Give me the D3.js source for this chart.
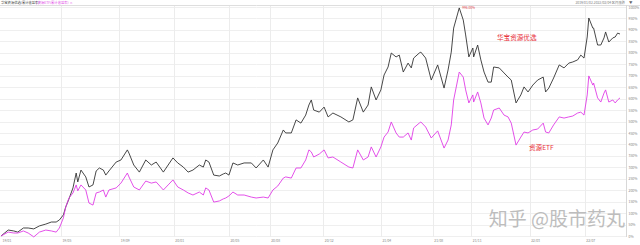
<!DOCTYPE html>
<html>
<head>
<meta charset="utf-8">
<script src="https://cdn.jsdelivr.net/npm/d3@7"></script>
<style>
body { margin: 0; background: #fff; }
text { font-family: "Noto Sans CJK SC", "Noto Sans", sans-serif; }
</style>
</head>
<body>
<div id="chart"></div>
<script>
// trading day index since start, and cumulative return (%) of each series
var days = [0,9,16,21,28,34,41,48,56,63,
  69,73,78,81,85,90,94,96,100,106,
  110,115,119,123,128,131,135,144,150,158,
  160,166,173,181,188,194,203,209,215,221,
  228,234,240,248,253,256,260,266,273,278,
  281,285,290,296,304,313,319,328,334,340,
  346,353,356,363,369,375,381,385,388,391,
  398,404,409,415,425,435,440,446,453,459,
  463,469,475,479,484,488,494,498,503,509,
  513,516,523,525,531,538,546,554,559,563,
  566,573,578,581,585,590,591,596,600,604,
  609,613,616,623,629,634,638,644,650,654,
  659,665,671,678,681,685,691,698,704,710,
  715,721,725,729,733,735,740,741,746,750,
  754,756,760,765,768,771,774];

var fundReturn = [0,26,22,17,35,35,31,44,52,61,
  61,70,92,127,162,210,275,236,288,258,
  214,223,284,297,288,266,284,323,332,376,
  362,310,279,332,310,323,279,310,341,319,
  301,279,288,310,301,332,323,266,262,271,
  275,266,319,310,319,319,297,332,301,376,
  406,463,450,450,507,493,528,572,594,550,
  541,563,520,537,520,498,507,603,541,572,
  651,594,638,703,738,799,782,790,716,755,
  734,777,799,803,777,681,747,646,725,803,
  908,996,943,878,782,821,782,834,769,716,
  672,672,738,734,712,694,681,581,616,651,
  629,659,681,694,629,646,690,747,734,755,
  760,769,790,777,869,952,908,908,834,834,
  865,891,847,865,869,886,882];

var etfReturn = [0,17,13,13,22,13,-4,17,26,22,
  17,35,79,127,166,188,223,197,223,201,
  144,135,188,192,201,170,201,210,231,275,
  258,214,201,240,231,236,201,223,245,214,
  201,188,179,192,179,210,201,148,153,162,
  166,175,192,179,179,170,166,170,166,201,
  218,253,258,253,297,297,332,376,367,345,
  358,376,341,345,323,301,297,376,332,345,
  389,345,389,432,454,498,450,432,432,450,
  419,472,493,498,476,428,459,384,419,485,
  594,716,694,638,581,616,585,629,581,515,
  485,515,550,559,528,520,493,397,432,454,
  450,463,467,493,454,450,485,520,515,520,
  524,537,541,528,616,699,659,668,603,585,
  624,638,585,594,581,594,603];

var seriesNames = ["华宝资源优选", "资源ETF"];
var tickDays = [0, 75, 148, 216, 285, 336, 403, 475, 540, 588, 661, 730];
var tickLabels = ["19/01","19/05","19/09","20/01","20/05","20/08","20/12","21/04","21/08","21/11","22/03","22/07"];
var yTicks = [0,50,100,150,200,250,300,350,400,450,500,550,600,650,700,750,800,850,900,950,1000];

var svgWidth = 640;
var svgHeight = 245;

var svg = d3.select("#chart")
  .append("svg")
  .attr("width", svgWidth)
  .attr("height", svgHeight);

var xScale = d3.scaleLinear().domain([0, 774]).range([1, 620]);
var yScale = d3.scaleLinear().domain([0, 1000]).range([236, 7]);

// grid
svg.append("g")
  .selectAll("line")
  .data(yTicks)
  .enter()
  .append("line")
  .attr("x1", 0)
  .attr("x2", 626)
  .attr("y1", d => Math.round(yScale(d)) + 0.5)
  .attr("y2", d => Math.round(yScale(d)) + 0.5)
  .attr("stroke", "#efefef")
  .attr("stroke-width", 1);

svg.append("g")
  .selectAll("line")
  .data(tickDays.slice(1))
  .enter()
  .append("line")
  .attr("x1", d => Math.round(xScale(d)) + 0.5)
  .attr("x2", d => Math.round(xScale(d)) + 0.5)
  .attr("y1", 5)
  .attr("y2", 237)
  .attr("stroke", "#ececec")
  .attr("stroke-width", 1);

// top border under the legend
svg.append("line")
  .attr("x1", 0).attr("x2", 640)
  .attr("y1", 5.5).attr("y2", 5.5)
  .attr("stroke", "#dedede");

// right axis
var rightAxis = d3.axisRight(yScale)
  .tickValues(yTicks)
  .tickSize(0)
  .tickPadding(2)
  .tickFormat(d => d + "%");

var ra = svg.append("g")
  .attr("transform", "translate(626.5,0)")
  .call(rightAxis);
ra.select(".domain").attr("stroke", "#d8d8d8").attr("d", "M0,5V237");
ra.selectAll("text").attr("font-size", 3.4).attr("fill", "#888");

// bottom axis
var bottomAxis = d3.axisBottom(xScale)
  .tickValues(tickDays)
  .tickSize(0)
  .tickPadding(3)
  .tickFormat((d, i) => tickLabels[i]);

var ba = svg.append("g")
  .attr("transform", "translate(0,237)")
  .call(bottomAxis);
ba.select(".domain").remove();
ba.selectAll("text")
  .attr("font-size", 3.4)
  .attr("fill", "#888")
  .attr("text-anchor", "start")
  .attr("dx", 1);

// lines
var fundLine = d3.line()
  .x((d, i) => xScale(days[i]))
  .y(d => yScale(d));

svg.append("path")
  .datum(fundReturn)
  .attr("d", fundLine)
  .attr("fill", "none")
  .attr("stroke", "#333")
  .attr("stroke-width", 0.9)
  .attr("stroke-linejoin", "round");

svg.append("path")
  .datum(etfReturn)
  .attr("d", fundLine)
  .attr("fill", "none")
  .attr("stroke", "#e03de6")
  .attr("stroke-width", 0.9)
  .attr("stroke-linejoin", "round");

// peak label
var peakIdx = d3.maxIndex(fundReturn);
svg.append("text")
  .attr("x", xScale(days[peakIdx]) + 3)
  .attr("y", yScale(fundReturn[peakIdx]) + 1.5)
  .attr("font-size", 3.2)
  .attr("fill", "#e0474c")
  .text(d3.format(".2f")(fundReturn[peakIdx]) + "%");

// series annotations
svg.append("text")
  .attr("x", 497)
  .attr("y", 40)
  .attr("font-size", 6.6)
  .attr("fill", "#e8323c")
  .text(seriesNames[0]);

svg.append("text")
  .attr("x", 529)
  .attr("y", 150)
  .attr("font-size", 6.6)
  .attr("fill", "#e8323c")
  .text(seriesNames[1]);

// legend
svg.append("text")
  .attr("x", 1).attr("y", 3.6)
  .attr("font-size", 3.3)
  .attr("fill", "#333")
  .text(seriesNames[0] + "(累计收益率)");
svg.append("text")
  .attr("x", 36).attr("y", 3.6)
  .attr("font-size", 3.3)
  .attr("fill", "#e03de6")
  .text("| " + seriesNames[1] + "(累计收益率) ×");

svg.append("text")
  .attr("x", 625).attr("y", 3.6)
  .attr("font-size", 3.3)
  .attr("text-anchor", "end")
  .attr("fill", "#777")
  .text("2019/01/02-2022/03/04 区间涨跌");
svg.append("text")
  .attr("x", 629).attr("y", 3.8)
  .attr("font-size", 3.5)
  .attr("fill", "#666")
  .text("▼");

// watermark
svg.append("text")
  .attr("x", 625)
  .attr("y", 226)
  .attr("text-anchor", "end")
  .attr("font-size", 19)
  .attr("fill", "#bdbdbd")
  .text("知乎 @股市药丸");
</script>
</body>
</html>
